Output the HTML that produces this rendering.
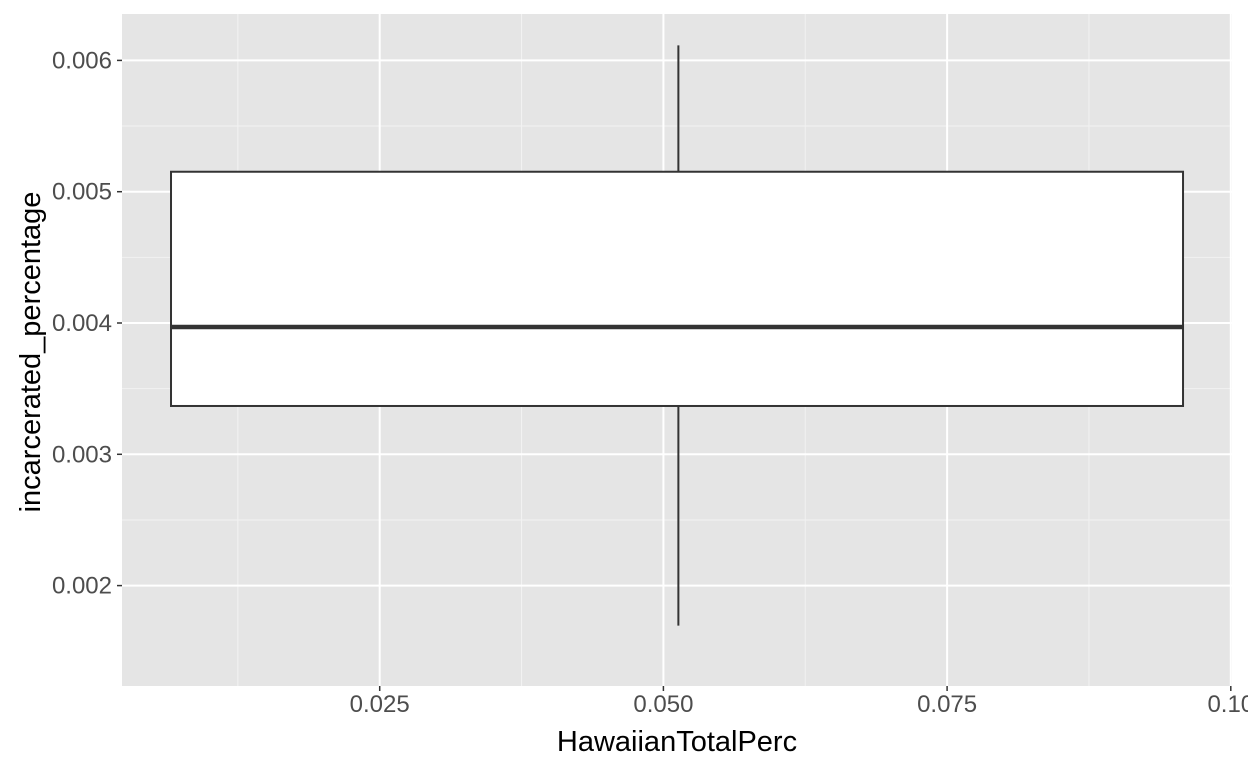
<!DOCTYPE html>
<html><head><meta charset="utf-8"><style>
html,body{margin:0;padding:0;background:#fff;}
svg{display:block;font-family:"Liberation Sans",Arial,sans-serif;}
</style></head><body>
<svg id="chart" width="1248" height="768" viewBox="0 0 1248 768" xmlns="http://www.w3.org/2000/svg"></svg>
<script>
const xTicks = [0.025, 0.05, 0.075, 0.1];
const xTickLabels = ["0.025", "0.050", "0.075", "0.10"];
const yTicks = [0.002, 0.003, 0.004, 0.005, 0.006];
const yTickLabels = ["0.002", "0.003", "0.004", "0.005", "0.006"];
const boxX = [0.00661, 0.09579];
const whiskerX = [0.05132];
const boxStats = [0.001695, 0.003368, 0.00397, 0.005152, 0.006114]; // min, q1, median, q3, max

const P = {l:122, r:1232, t:14, b:686};
function sx(v){ return 96 + v/0.025*283.7; }
function sy(v){ return 323 - (v-0.004)*131300; }
const NS = "http://www.w3.org/2000/svg";
const svg = document.getElementById('chart');
function mk(tag, attrs, parent){
  const e = document.createElementNS(NS, tag);
  for (const k in attrs) e.setAttribute(k, attrs[k]);
  (parent||svg).appendChild(e); return e;
}
const bg = mk('rect',{x:P.l,y:P.t,width:P.r-P.l,height:P.b-P.t,fill:'#e5e5e5'});


const grid = mk('g',{});


for (let i=0;i<xTicks.length;i++){
  const x = sx(xTicks[i]-0.0125);
  mk('line',{x1:x,x2:x,y1:P.t,y2:P.b,stroke:'#f2f2f2','stroke-width':1},grid);
}
for (let i=0;i<yTicks.length;i++){
  const y = sy(yTicks[i]+0.0005);
  mk('line',{x1:P.l,x2:P.r,y1:y,y2:y,stroke:'#f2f2f2','stroke-width':1},grid);
}
xTicks.forEach((v,i)=>{
  const x = sx(v);
  mk('line',{x1:x,x2:x,y1:P.t,y2:P.b,stroke:'#fff','stroke-width':2},grid);
  mk('line',{x1:x,x2:x,y1:P.b,y2:P.b+5,stroke:'#333','stroke-width':1.5});
  const t = mk('text',{x:x,y:P.b+26,'text-anchor':'middle','font-size':24,fill:'#4d4d4d'});
  t.textContent = xTickLabels[i];
  
  
});
yTicks.forEach((v,i)=>{
  const y = sy(v);
  mk('line',{x1:P.l,x2:P.r,y1:y,y2:y,stroke:'#fff','stroke-width':2},grid);
  mk('line',{x1:P.l-5,x2:P.l,y1:y,y2:y,stroke:'#333','stroke-width':1.5});
  const t = mk('text',{x:P.l-10,y:y+8,'text-anchor':'end','font-size':24,fill:'#4d4d4d'});
  t.textContent = yTickLabels[i];
  
  
});
const g = mk('g',{});


const wx = sx(whiskerX[0]);
mk('line',{x1:wx,x2:wx,y1:sy(boxStats[3]),y2:sy(boxStats[4]),stroke:'#333','stroke-width':2},g);
mk('line',{x1:wx,x2:wx,y1:sy(boxStats[0]),y2:sy(boxStats[1]),stroke:'#333','stroke-width':2},g);
const box = mk('rect',{x:sx(boxX[0]),y:sy(boxStats[3]),width:sx(boxX[1])-sx(boxX[0]),height:sy(boxStats[1])-sy(boxStats[3]),fill:'#fff',stroke:'#333','stroke-width':2},g);


const med = mk('line',{x1:sx(boxX[0]),x2:sx(boxX[1]),y1:sy(boxStats[2]),y2:sy(boxStats[2]),stroke:'#333','stroke-width':4.5},g);


const xt = mk('text',{x:(P.l+P.r)/2,y:751,'text-anchor':'middle','font-size':29,fill:'#000'});
xt.textContent='HawaiianTotalPerc';


const yt = mk('text',{x:0,y:0,'text-anchor':'middle','font-size':29,fill:'#000',transform:`translate(40,${(P.t+P.b)/2+2}) rotate(-90)`});
yt.textContent='incarcerated_percentage';


</script>
</body></html>
